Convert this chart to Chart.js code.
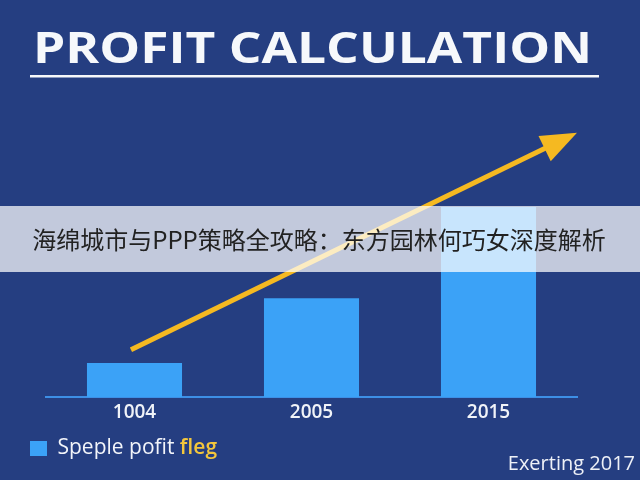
<!DOCTYPE html>
<html>
<head>
<meta charset="utf-8">
<script src="https://cdn.jsdelivr.net/npm/chart.js@4"></script>
<style>
  html, body { margin: 0; padding: 0; background: #253e81; }
  #wrap { width: 640px; height: 480px; }
</style>
</head>
<body>
<div id="wrap"><canvas id="profitChart" width="640" height="480"></canvas></div>
<script>
// Chart data
const years = ['1004', '2005', '2015'];
const profits = [18, 52, 100];
const seriesName = 'Speple pofit fleg';
// trend arrow, in category index / value units
const trendIdx = [-0.02, 2.5];
const trendVal = [25, 139];

const titleText = 'PROFIT CALCULATION';
const bannerText = '海绵城市与PPP策略全攻略：东方园林何巧女深度解析';
const creditText = 'Exerting 2017';

const bgColor = '#253e81';
const barColor = '#3ba2f7';
const arrowColor = '#f5b921';

const decor = {
    id: 'decor',
    beforeDraw(chart) {
        const c = chart.ctx;
        c.save();
        c.fillStyle = bgColor;
        c.fillRect(0, 0, chart.width, chart.height);

        // title: wide geometric look, stretched to its width in the picture
        c.font = '700 43px "Open Sans"';
        const w = c.measureText(titleText).width;
        c.fillStyle = '#f6f8fb';
        c.textBaseline = 'alphabetic';
        c.save();
        c.translate(33, 63);
        c.scale(559 / w, 1);
        c.fillText(titleText, 0, 0);
        c.restore();
        c.fillRect(30, 75, 569, 2.5);
        c.restore();
    },
    afterDatasetsDraw(chart) {
        const c = chart.ctx;
        const xs = chart.scales.x, ys = chart.scales.y;
        const x0 = xs.getPixelForValue(trendIdx[0]), y0 = ys.getPixelForValue(trendVal[0]);
        const x1 = xs.getPixelForValue(trendIdx[1]), y1 = ys.getPixelForValue(trendVal[1]);
        const ang = Math.atan2(y1 - y0, x1 - x0);
        const headLen = 36, headHalf = 14;
        const bx = x1 - headLen * Math.cos(ang), by = y1 - headLen * Math.sin(ang);
        c.save();
        c.strokeStyle = arrowColor;
        c.lineWidth = 5;
        c.beginPath();
        c.moveTo(x0, y0);
        c.lineTo(bx + 4 * Math.cos(ang), by + 4 * Math.sin(ang));
        c.stroke();
        c.fillStyle = arrowColor;
        c.beginPath();
        c.moveTo(x1, y1);
        c.lineTo(bx + headHalf * Math.sin(ang), by - headHalf * Math.cos(ang));
        c.lineTo(bx - headHalf * Math.sin(ang), by + headHalf * Math.cos(ang));
        c.closePath();
        c.fill();
        c.restore();
    },
    afterDraw(chart) {
        const c = chart.ctx;
        c.save();
        // yellow last word of the legend
        const lg = chart.legend;
        if (lg && lg.legendHitBoxes.length) {
            const hb = lg.legendHitBoxes[0];
            const lab = lg.options.labels;
            const fs = lab.font.size;
            c.font = '400 ' + fs + 'px "Open Sans"';
            const tx = hb.left + lab.boxWidth + fs / 2 + c.measureText(lg.legendItems[0].text + ' ').width;
            c.font = '600 ' + fs + 'px "Open Sans"';
            c.fillStyle = '#f3c63c';
            c.textBaseline = 'middle';
            c.fillText('fleg', tx, hb.top + hb.height / 2);
        }

        // credit
        c.font = '400 20px "Open Sans"';
        c.fillStyle = '#eef1f7';
        c.textAlign = 'right';
        c.textBaseline = 'alphabetic';
        c.fillText(creditText, 635, 470);

        // translucent banner over the chart
        c.fillStyle = 'rgba(255,255,255,0.72)';
        c.fillRect(0, 206, chart.width, 66);
        c.font = '400 24px "Noto Sans CJK SC"';
        c.fillStyle = '#222222';
        c.textAlign = 'center';
        c.textBaseline = 'middle';
        c.fillText(bannerText, 319, 240);
        c.restore();
    }
};

const ctx = document.getElementById('profitChart').getContext('2d');
new Chart(ctx, {
    type: 'bar',
    data: {
        labels: years,
        datasets: [{
            label: seriesName,
            data: profits,
            backgroundColor: barColor,
            borderWidth: 0,
            categoryPercentage: 1,
            barPercentage: 0.537
        }]
    },
    options: {
        responsive: false,
        animation: false,
        devicePixelRatio: 1,
        layout: { padding: { top: 169, left: 20, right: 63, bottom: 11 } },
        scales: {
            x: {
                grid: { display: false, drawTicks: false },
                border: { display: true, color: '#3d8fe6', width: 2 },
                ticks: {
                    color: '#f0f3f8',
                    padding: 4,
                    font: { family: 'Open Sans', size: 19, weight: '600' }
                }
            },
            y: {
                display: true,
                min: 0,
                max: 120,
                grid: { display: false, drawTicks: false },
                border: { display: false },
                ticks: { display: false },
                afterFit(scale) { scale.width = 26; }
            }
        },
        plugins: {
            legend: {
                position: 'bottom',
                align: 'start',
                labels: {
                    color: '#f3f5fa',
                    boxWidth: 17,
                    boxHeight: 15,
                    padding: 10,
                    font: { family: 'Open Sans', size: 21 },
                    generateLabels(chart) {
                        return [{
                            text: 'Speple pofit',
                            fillStyle: barColor,
                            strokeStyle: barColor,
                            lineWidth: 0,
                            fontColor: '#f3f5fa',
                            datasetIndex: 0
                        }];
                    }
                }
            },
            tooltip: { enabled: false },
            title: { display: false }
        }
    },
    plugins: [decor]
});
</script>
</body>
</html>
